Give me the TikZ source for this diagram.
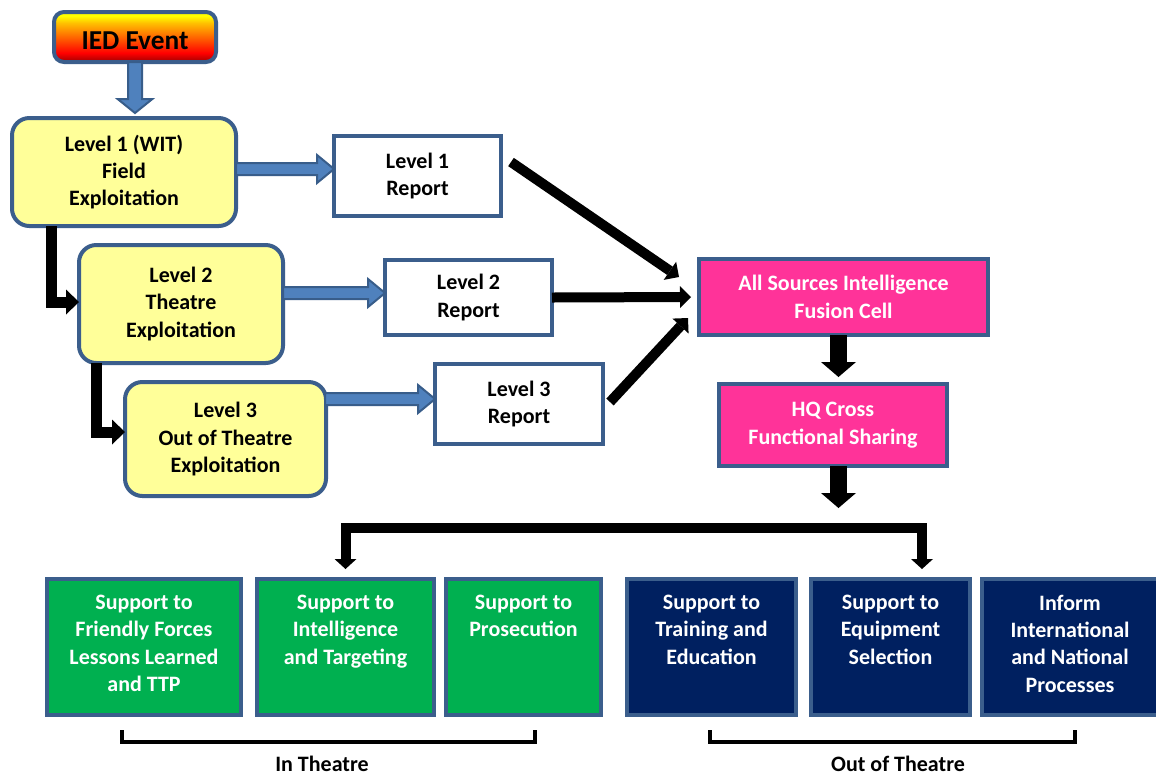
\documentclass[tikz,border=0pt]{standalone}
\usepackage{fontspec}
\setmainfont{Carlito}
\usetikzlibrary{arrows.meta,calc}
\definecolor{bord}{HTML}{3B5E8C}
\definecolor{yel}{HTML}{FFFF99}
\definecolor{pinkf}{HTML}{FF3399}
\definecolor{grn}{HTML}{00B050}
\definecolor{navy}{HTML}{002060}
\definecolor{barfill}{HTML}{4F81BD}
\definecolor{barline}{HTML}{385D8A}
\definecolor{iedA}{HTML}{A00000}
\definecolor{iedB}{HTML}{FF0000}
\definecolor{iedC}{HTML}{FF6600}
\definecolor{iedD}{HTML}{FFC000}
\definecolor{iedE}{HTML}{FFFF00}
\pgfdeclareverticalshading{iedshade}{100bp}{color(0bp)=(iedA); color(25bp)=(iedA); color(34bp)=(iedB); color(50bp)=(iedC); color(64bp)=(iedD); color(71bp)=(iedE); color(100bp)=(iedE)}
\newcommand\fs{\fontsize{16.5pt}{20.5pt}\selectfont\bfseries}
\newcommand\toptext[2]{\parbox[c][78pt][t]{#1}{\centering #2}}
\tikzset{
  base/.style={draw=bord, line width=3pt, inner sep=0pt, outer sep=0pt, align=center, font=\fs},
  lvl/.style={base, fill=yel, rounded corners=13pt},
  rep/.style={base, fill=white},
  pinkbox/.style={base, fill=pinkf, text=white},
  gbox/.style={base, fill=grn, text=white, minimum height=102pt},
  nbox/.style={base, fill=navy, text=white, minimum height=102pt},
  blk/.style={line width=7.5pt, -{Triangle[length=8.25pt,width=16.5pt,line width=0pt]}},
  elbow/.style={line width=8.25pt, line join=miter, -{Triangle[length=9.75pt,width=18.75pt,line width=0pt]}},
  bigblk/.style={line width=12.75pt, -{Triangle[length=11.25pt,width=26.25pt,line width=0pt]}},
  fork/.style={line width=7.5pt, line join=miter, {Triangle[length=7.5pt,width=16.5pt,line width=0pt]}-{Triangle[length=7.5pt,width=16.5pt,line width=0pt]}},
  bluearr/.style={fill=barfill, draw=barline, line width=1.5pt, line join=miter},
  brack/.style={line width=3pt, line join=miter},
  lab/.style={font=\fs, inner sep=0pt}
}
\newcommand\hblock[2]{%
  \path[bluearr] let \p1=#1, \p2=#2 in
    (\x1,\y1+4.5pt) -- (\x2-12.75pt,\y1+4.5pt) -- (\x2-12.75pt,\y1+10.5pt) -- (\x2,\y1)
    -- (\x2-12.75pt,\y1-10.5pt) -- (\x2-12.75pt,\y1-4.5pt) -- (\x1,\y1-4.5pt) -- cycle;}
\newcommand\vblock[2]{%
  \path[bluearr] let \p1=#1, \p2=#2 in
    (\x1-5.25pt,\y1) -- (\x1-5.25pt,\y2+10.5pt) -- (\x1-13pt,\y2+10.5pt) -- (\x1,\y2)
    -- (\x1+13pt,\y2+10.5pt) -- (\x1+5.25pt,\y2+10.5pt) -- (\x1+5.25pt,\y1) -- cycle;}
\begin{document}
\begin{tikzpicture}[x=0.75pt,y=-0.75pt]
\useasboundingbox (0,0) rectangle (1156,776);
\fill[white] (0,0) rectangle (1156,776);

% nodes
\node[base, shading=iedshade, rounded corners=7.5pt, minimum width=121.5pt, minimum height=37.5pt, font=\fontsize{20.5pt}{24pt}\selectfont\bfseries] (ied) at (135,37) {\raisebox{-9.5pt}[0pt][0pt]{IED Event}};
\node[lvl, minimum width=168pt, minimum height=81pt] (lv1) at (124,172) {Level 1 (WIT)\\Field\\Exploitation};
\node[lvl, minimum width=153pt, minimum height=88.5pt] (lv2) at (181,304) {Level 2\\Theatre\\Exploitation};
\node[lvl, minimum width=150.75pt, minimum height=85.5pt] (lv3) at (225.5,439) {Level 3\\Out of Theatre\\Exploitation};
\node[rep, minimum width=125.25pt, minimum height=60pt] (r1) at (417.5,176) {Level 1\\Report};
\node[rep, minimum width=125.25pt, minimum height=56.25pt] (r2) at (468.5,297.5) {Level 2\\Report};
\node[rep, minimum width=126pt, minimum height=60pt] (r3) at (519,404) {Level 3\\Report};
\node[pinkbox, minimum width=216.75pt, minimum height=57pt] (fus) at (843.5,297) {All Sources Intelligence\\Fusion Cell};
\node[pinkbox, minimum width=171pt, minimum height=61.5pt] (hq) at (833,425) {HQ Cross\\Functional Sharing};

\node[gbox, minimum width=145.5pt] (s1) at (144,647) {\toptext{140pt}{Support to\\Friendly Forces\\Lessons Learned\\and TTP}};
\node[gbox, minimum width=132.75pt] (s2) at (345.5,647) {\toptext{128pt}{Support to\\Intelligence\\and Targeting}};
\node[gbox, minimum width=116.25pt] (s3) at (523.5,647) {\toptext{112pt}{Support to\\Prosecution}};
\node[nbox, minimum width=126.75pt] (s4) at (711.5,647) {\toptext{122pt}{Support to\\Training and\\Education}};
\node[nbox, minimum width=119.25pt] (s5) at (890.5,647) {\toptext{115pt}{Support to\\Equipment\\Selection}};
\node[nbox, minimum width=132pt] (s6) at (1070,647) {\toptext{120pt}{Inform\\International\\and National\\Processes}};

% blue block arrows
\vblock{(ied.south)}{($(lv1.north)+(12,-5)$)}
\hblock{($(lv1.east)+(0,-3)$)}{($(r1.west)+(0,-7)$)}
\hblock{($(lv2.east)+(0,-11)$)}{($(r2.west)+(0,-4.5)$)}
\hblock{($(lv3.east |- r3.west)+(-1,-5)$)}{($(r3.west)+(0,-5)$)}

% elbow arrows between levels
\draw[elbow] ($(lv1.south west)+(39,0)$) |- ($(lv2.west)+(0,-2)$);
\draw[elbow] ($(lv2.south west)+(17,0)$) |- ($(lv3.west)+(0,-7)$);

% reports to fusion cell
\draw[blk] ($(r1.north east)+(10,26)$) -- ($(fus.west)+(-20,-20)$);
\draw[blk] (r2.east) -- ($(fus.west)+(-8,0)$);
\draw[blk] ($(r3.east)+(7,-2)$) -- ($(fus.west)+(-11,21)$);

% fusion -> HQ -> outputs
\draw[bigblk] ($(fus.south)+(-5,0)$) -- ($(hq.north)+(5.5,-7)$);
\coordinate (hqout) at ($(hq.south)+(5.5,42)$);
\draw[bigblk] ($(hq.south)+(5.5,0)$) -- (hqout);
\coordinate (bar) at (0,528);
\coordinate (fl) at ($(s2.north)+(0,-10)$);
\coordinate (fr) at ($(s5.north)+(31.5,-10)$);
\draw[fork] (fl) -- (fl |- bar) -- (fr |- bar) -- (fr);

% bottom brackets
\draw[brack] (122,730) -- (122,742) -- (535,742) -- (535,730);
\draw[brack] (710,730) -- (710,742) -- (1075,742) -- (1075,730);
\node[lab] (inth) at (322,764) {In Theatre};
\node[lab] (outth) at (898,764) {Out of Theatre};
\end{tikzpicture}
\end{document}
